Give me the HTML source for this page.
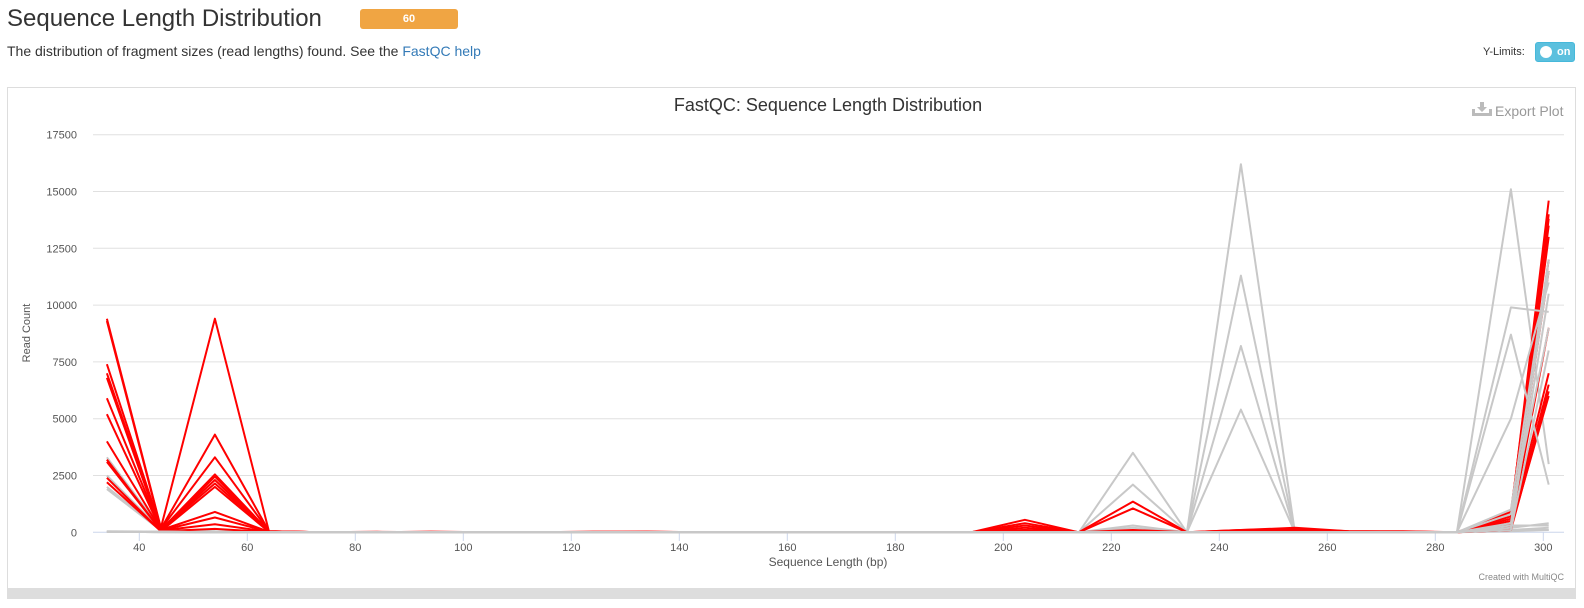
<!DOCTYPE html>
<html><head><meta charset="utf-8"><style>
body{margin:0;width:1584px;height:608px;background:#fff;font-family:"Liberation Sans",sans-serif;overflow:hidden;position:relative}
.abs{position:absolute}
</style></head><body>
<div class="abs" style="left:7px;top:5px;font-size:24px;color:#333;">Sequence Length Distribution</div>
<div class="abs" style="left:360px;top:9px;width:98px;height:20px;background:#f0a543;border-radius:3px;color:#fff;font-size:11px;font-weight:bold;text-align:center;line-height:20px;">60</div>
<div class="abs" style="left:7px;top:43px;font-size:14px;color:#333;">The distribution of fragment sizes (read lengths) found. See the <span style="color:#337ab7">FastQC help</span></div>
<div class="abs" style="left:1483px;top:46px;font-size:11px;color:#333;">Y-Limits:</div>
<div class="abs" style="left:1535px;top:42px;width:40px;height:20px;background:#5bc0de;border-radius:3px;border:1px solid #46b8da;box-sizing:border-box;">
<div style="position:absolute;left:4px;top:3px;width:12px;height:12px;border-radius:50%;background:#fff"></div>
<div style="position:absolute;left:21px;top:3px;font-size:11px;color:#fff;font-weight:bold">on</div></div>
<div class="abs" style="left:7px;top:87px;width:1569px;height:512px;border:1px solid #ddd;box-sizing:border-box;"></div>
<div class="abs" style="left:8px;top:588px;width:1567px;height:10px;background:#ddd;"></div>
<svg class="abs" style="left:0;top:0" width="1584" height="608" id="chart">
<text x="828" y="111" text-anchor="middle" font-size="18" fill="#333" font-family="Liberation Sans, sans-serif">FastQC: Sequence Length Distribution</text>
<g>
<path d="M1480 102h4v5h3l-5 5-5-5h3z M1472 109h3v4h14v-4h3v7h-20z" fill="#bbb"/>
<text x="1495" y="116" font-size="14" fill="#999" font-family="Liberation Sans, sans-serif">Export Plot</text></g>
<text x="30" y="333" text-anchor="middle" font-size="11" fill="#555" transform="rotate(-90 30 333)" font-family="Liberation Sans, sans-serif">Read Count</text>
<text x="828" y="566" text-anchor="middle" font-size="12" fill="#555" font-family="Liberation Sans, sans-serif">Sequence Length (bp)</text>
<text x="1564" y="580" text-anchor="end" font-size="9" fill="#888" font-family="Liberation Sans, sans-serif">Created with MultiQC</text>
<g id="grid"></g><g id="series"></g>
</svg>
<script>
const categories=[34,44,54,64,74,84,94,104,114,124,134,144,154,164,174,184,194,204,214,224,234,244,254,264,274,284,294,301];
const yTicks=[0,2500,5000,7500,10000,12500,15000,17500];
const xTicks=[40,60,80,100,120,140,160,180,200,220,240,260,280,300];
const red1=[9400,200,9400,50,0,0,30,0,0,30,30,0,0,0,0,0,0,100,0,0,0,100,150,50,50,0,700,14600];
const red2=[9300,150,4300,50,0,20,0,0,0,0,20,0,0,0,0,0,0,550,0,1350,0,100,200,50,30,0,800,14000];
const red3=[7400,150,3300,50,0,0,0,0,0,0,0,0,0,0,0,0,0,400,0,1050,0,50,100,30,30,0,900,13500];
const red4=[7000,100,2550,40,0,0,0,0,0,0,0,0,0,0,0,0,0,300,0,100,0,50,50,30,0,0,600,13000];
const red5=[6800,100,2450,40,0,0,0,0,0,0,0,0,0,0,0,0,0,200,0,50,0,0,50,0,0,0,500,12000];
const red6=[5900,100,2300,30,0,0,0,0,0,0,0,0,0,0,0,0,0,100,0,0,0,0,0,0,0,0,400,11500];
const red7=[5200,100,2150,30,0,0,0,0,0,0,0,0,0,0,0,0,0,50,0,0,0,0,0,0,0,0,300,9000];
const red8=[4000,100,900,20,0,0,0,0,0,0,0,0,0,0,0,0,0,0,0,0,0,0,0,0,0,0,300,7000];
const red9=[3200,80,650,20,0,0,0,0,0,0,0,0,0,0,0,0,0,0,0,0,0,0,0,0,0,0,200,6500];
const red10=[3100,80,350,20,0,0,0,0,0,0,0,0,0,0,0,0,0,0,0,0,0,0,0,0,0,0,200,6000];
const red11=[2400,50,2000,20,0,0,0,0,0,0,0,0,0,0,0,0,0,0,0,0,0,0,0,0,0,0,100,6200];
const red12=[2200,50,150,10,0,0,0,0,0,0,0,0,0,0,0,0,0,0,0,0,0,0,0,0,0,0,100,13800];
const grey1=[3300,150,50,0,0,0,0,0,0,0,0,0,0,0,0,0,0,0,0,3500,0,16200,0,0,0,0,200,400];
const grey2=[3200,100,30,0,0,0,0,0,0,0,0,0,0,0,0,0,0,0,0,2100,0,11300,0,0,0,0,100,100];
const grey3=[2500,100,30,0,0,0,0,0,0,0,0,0,0,0,0,0,0,0,0,300,0,8200,0,0,0,0,100,200];
const grey4=[2000,80,20,0,0,0,0,0,0,0,0,0,0,0,0,0,0,0,0,200,0,5400,0,0,0,0,50,100];
const grey5=[1900,80,20,0,0,0,0,0,0,0,0,0,0,0,0,0,0,0,0,100,0,0,0,0,0,0,15100,3000];
const grey6=[50,30,0,0,0,0,0,0,0,0,0,0,0,0,0,0,0,0,0,0,0,0,0,0,0,0,9900,9700];
const grey7=[30,20,0,0,0,0,0,0,0,0,0,0,0,0,0,0,0,0,0,0,0,0,0,0,0,0,8700,2100];
const grey8=[30,20,0,0,0,0,0,0,0,0,0,0,0,0,0,0,0,0,0,0,0,0,0,0,0,0,5000,11000];
const grey9=[30,20,0,0,0,0,0,0,0,0,0,0,0,0,0,0,0,0,0,0,0,0,0,0,0,0,1000,12000];
const grey10=[30,20,0,0,0,0,0,0,0,0,0,0,0,0,0,0,0,0,0,0,0,0,0,0,0,0,200,10500];
const grey11=[20,10,0,0,0,0,0,0,0,0,0,0,0,0,0,0,0,0,0,0,0,0,0,0,0,0,100,8000];
const grey12=[20,10,0,0,0,0,0,0,0,0,0,0,0,0,0,0,0,0,0,0,0,0,0,0,0,0,300,300];
const grey13=[20,10,0,0,0,0,0,0,0,0,0,0,0,0,0,0,0,0,0,0,0,0,0,0,0,0,800,9000];
const grey14=[20,10,0,0,0,0,0,0,0,0,0,0,0,0,0,0,0,0,0,0,0,0,0,0,0,0,400,11500];
const redSeries=[red1,red2,red3,red4,red5,red6,red7,red8,red9,red10,red11,red12];
const greySeries=[grey1,grey2,grey3,grey4,grey5,grey6,grey7,grey8,grey9,grey10,grey11,grey12,grey13,grey14];
const NS='http://www.w3.org/2000/svg';
const xs=v=>139.3+(v-40)*5.4;
const ys=v=>532.3-v*(56.8/2500);
const grid=document.getElementById('grid'),ser=document.getElementById('series');
function mk(t,a){const e=document.createElementNS(NS,t);for(const k in a)e.setAttribute(k,a[k]);return e;}
yTicks.forEach(t=>{
 const l=mk('line',{x1:93,x2:1564,y1:ys(t),y2:ys(t),stroke:t===0?'#ccd6eb':'#e0e0e0','stroke-width':1});
 
 
 grid.appendChild(l);
 const tx=mk('text',{x:77,y:ys(t)+4,'text-anchor':'end','font-size':11,fill:'#555','font-family':'Liberation Sans, sans-serif'});
 tx.textContent=t;
 
 
 grid.appendChild(tx);
});
xTicks.forEach(t=>{
 const l=mk('line',{x1:xs(t),x2:xs(t),y1:532,y2:541,stroke:'#ccd6eb'});
 
 
 grid.appendChild(l);
 const tx=mk('text',{x:xs(t),y:551,'text-anchor':'middle','font-size':11,fill:'#555','font-family':'Liberation Sans, sans-serif'});
 tx.textContent=t;
 
 
 grid.appendChild(tx);
});
function draw(arr,color,name){
 const d=arr.map((v,i)=>(i?'L':'M')+xs(categories[i]).toFixed(1)+' '+ys(v).toFixed(1)).join(' ');
 const p=mk('path',{d:d,fill:'none',stroke:color,'stroke-width':2,'stroke-linejoin':'round'});
 
 
 ser.appendChild(p);
}
greySeries.slice(0,5).forEach((s,i)=>draw(s,'#c8c8c8','sample-line-grey-'+(i+1)));
redSeries.forEach((s,i)=>draw(s,'#ff0000','sample-line-red-'+(i+1)));
greySeries.slice(5).forEach((s,i)=>draw(s,'#c8c8c8','sample-line-grey-'+(i+6)));
</script>
</body></html>
